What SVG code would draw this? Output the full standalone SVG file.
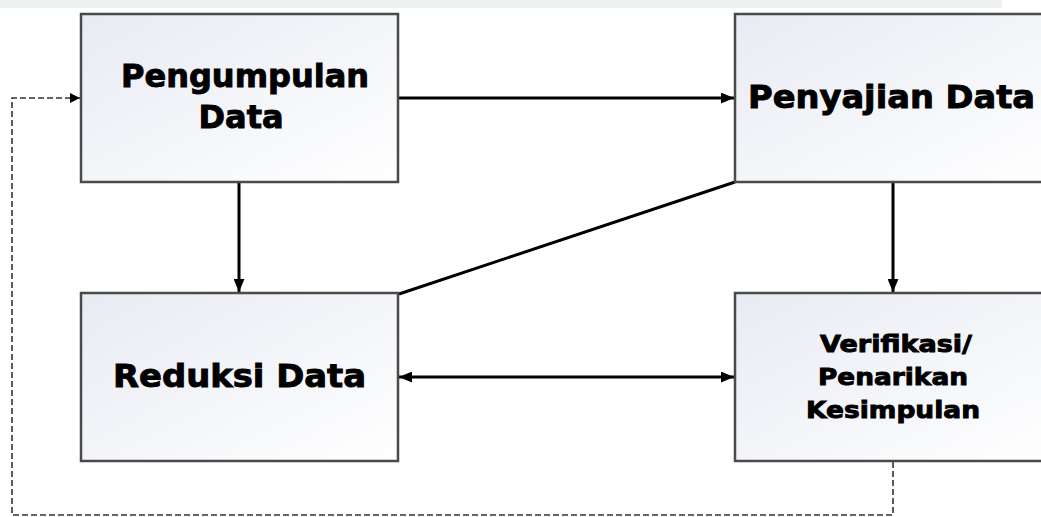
<svg xmlns="http://www.w3.org/2000/svg" width="1041" height="517" viewBox="0 0 1041 517">
<defs>
<linearGradient id="bg" x1="0" y1="0" x2="1" y2="1">
<stop offset="0" stop-color="#e8ebf3"/>
<stop offset="1" stop-color="#ffffff"/>
</linearGradient>
<marker id="ah" viewBox="0 0 12 10" refX="12" refY="5" markerWidth="13" markerHeight="11" markerUnits="userSpaceOnUse" orient="auto-start-reverse">
<path d="M0,0 L12,5 L0,10 z" fill="#000"/>
</marker>
<marker id="ahs" viewBox="0 0 10 10" refX="10" refY="5" markerWidth="10" markerHeight="10" markerUnits="userSpaceOnUse" orient="auto">
<path d="M0,0 L10,5 L0,10 z" fill="#000"/>
</marker>
</defs>
<style>
.box{fill:url(#bg);stroke:#4a4a4a;stroke-width:2.5}
.t{font-family:"DejaVu Sans","Liberation Sans",sans-serif;font-weight:bold;fill:#000;stroke:#000;stroke-width:0.9}
.c{stroke:#000;stroke-width:3;fill:none}
.d{stroke:#333;stroke-width:1.6;fill:none;stroke-dasharray:6 3}
</style>
<rect x="0" y="0" width="1002" height="8" fill="#eef2ee"/>
<g id="connectors">
<line class="c" x1="399" y1="98" x2="734" y2="98" marker-end="url(#ah)"/>
<line class="c" x1="239" y1="183" x2="239" y2="292" marker-end="url(#ah)"/>
<line class="c" x1="893" y1="183" x2="893" y2="292" marker-end="url(#ah)"/>
<line class="c" x1="399" y1="294" x2="735" y2="182"/>
<line class="c" x1="399" y1="377" x2="734" y2="377" marker-start="url(#ah)" marker-end="url(#ah)"/>
<path class="d" d="M893,462 V515 H12 V98 H80" marker-end="url(#ahs)"/>
</g>
<g id="pengumpulan">
<rect class="box" x="81" y="14" width="317" height="168"/>
<text class="t" font-size="32" text-anchor="middle" x="245" y="87" textLength="248" lengthAdjust="spacingAndGlyphs">Pengumpulan</text>
<text class="t" font-size="32" text-anchor="middle" x="241" y="128">Data</text>
</g>
<g id="penyajian">
<rect class="box" x="735" y="14" width="320" height="168"/>
<text class="t" font-size="32" x="748" y="108" textLength="287" lengthAdjust="spacingAndGlyphs">Penyajian Data</text>
</g>
<g id="reduksi">
<rect class="box" x="81" y="293" width="317" height="168"/>
<text class="t" font-size="32" x="113" y="387" textLength="253" lengthAdjust="spacingAndGlyphs">Reduksi Data</text>
</g>
<g id="verifikasi">
<rect class="box" x="735" y="293" width="320" height="168"/>
<text class="t" font-size="23" text-anchor="middle" x="896" y="352" textLength="152" lengthAdjust="spacingAndGlyphs">Verifikasi/</text>
<text class="t" font-size="23" text-anchor="middle" x="893" y="385" textLength="150" lengthAdjust="spacingAndGlyphs">Penarikan</text>
<text class="t" font-size="23" text-anchor="middle" x="893" y="418" textLength="174" lengthAdjust="spacingAndGlyphs">Kesimpulan</text>
</g>
</svg>
